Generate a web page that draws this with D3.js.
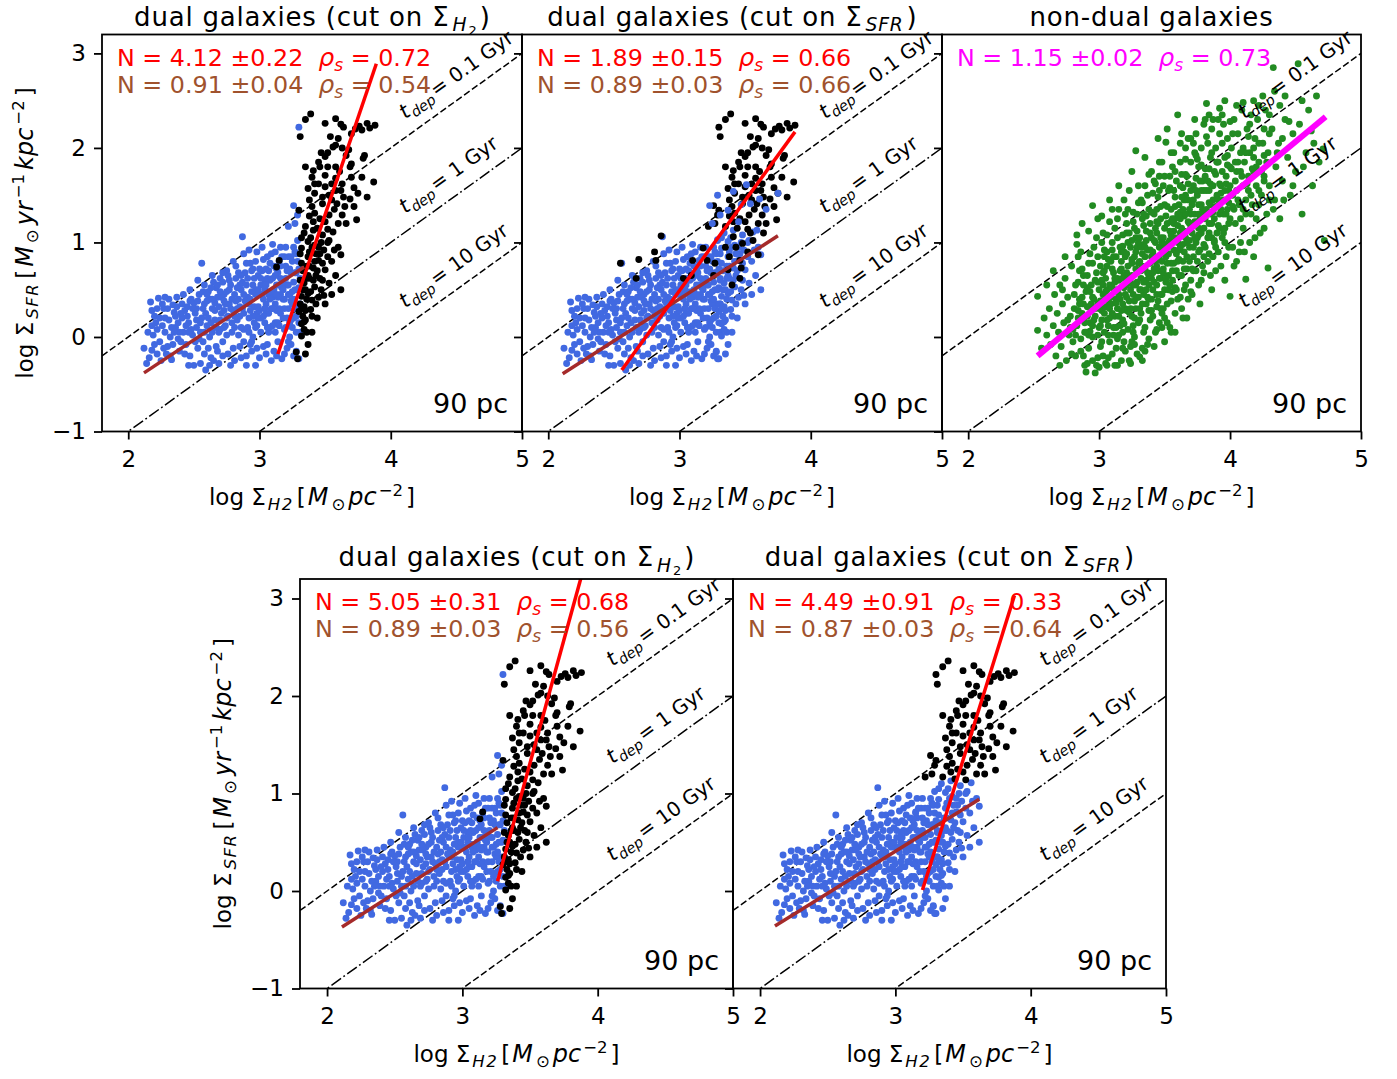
<!DOCTYPE html>
<html>
<head>
<meta charset="utf-8">
<script src="https://cdn.jsdelivr.net/npm/d3@7"></script>
<style>
  body { margin: 0; background: #fff; }
  text { font-family: "DejaVu Sans", sans-serif; }
</style>
</head>
<body>
<svg id="fig" width="1397" height="1079"></svg>
<script>
// axis setup
const xDomain = [1.8, 5], yDomain = [-1, 3.2];
const xTicks = [2, 3, 4, 5], yTicks = [-1, 0, 1, 2, 3];
const tdepGyr = [0.1, 1, 10];
const tdepLabels = ["0.1 Gyr", "1 Gyr", "10 Gyr"];

// dual galaxies: points that are blue whatever the cut
const bothBlue = [
  [2.12,-0.12],[2.14,-0.28],[2.16,-0.22],[2.17,0.37],[2.23,0.41],[2.19,0.02],[2.18,-0.14],[2.22,0.08],[2.24,-0.05],[2.21,0.15],[2.25,-0.25],[2.20,0.22],
  [2.27,0.30],[2.28,0.05],[2.30,-0.10],[2.31,0.18],[2.33,-0.24],[2.35,0.26],[2.36,0.10],[2.38,-0.02],[2.29,-0.18],[2.34,0.34],[2.37,0.42],[2.39,-0.15],[2.32,0.00],[2.26,0.12],
  [2.41,0.20],[2.42,0.05],[2.44,-0.08],[2.45,0.32],[2.46,0.15],[2.47,-0.20],[2.48,0.40],[2.49,0.02],[2.50,-0.30],[2.51,0.25],[2.52,0.10],[2.53,-0.12],[2.54,0.45],[2.43,0.28],[2.46,-0.30],[2.50,0.36],
  [2.56,0.78],[2.56,0.20],[2.57,-0.05],[2.58,0.35],[2.59,-0.35],[2.60,0.12],[2.61,0.48],[2.62,0.00],[2.63,-0.22],[2.64,0.30],[2.65,0.58],[2.66,0.18],[2.67,-0.10],[2.68,0.42],[2.69,0.05],[2.70,0.62],[2.58,0.55],[2.62,-0.30],[2.66,0.36],[2.69,-0.28],
  [2.71,0.25],[2.72,-0.05],[2.73,0.45],[2.74,0.12],[2.75,0.70],[2.76,-0.18],[2.77,0.35],[2.78,0.55],[2.79,0.05],[2.80,0.28],[2.81,-0.25],[2.82,0.62],[2.83,0.18],[2.84,0.40],[2.85,-0.10],[2.72,0.58],[2.76,0.22],[2.80,0.80],[2.84,0.02],[2.78,-0.30],
  [2.86,0.50],[2.87,1.06],[2.87,0.30],[2.88,0.08],[2.89,0.68],[2.90,-0.20],[2.91,0.42],[2.92,0.20],[2.93,0.78],[2.94,-0.05],[2.95,0.55],[2.96,0.32],[2.97,-0.30],[2.98,0.12],[2.99,0.65],[3.00,0.45],[2.88,0.88],[2.92,0.92],[2.95,0.00],[2.98,0.25],[2.90,0.36],[2.97,0.80],
  [3.01,0.20],[3.02,0.70],[3.03,-0.10],[3.04,0.50],[3.05,0.35],[3.06,0.85],[3.07,0.05],[3.08,0.60],[3.09,-0.25],[3.10,0.42],[3.11,0.75],[3.12,0.15],[3.13,0.55],[3.14,-0.05],[3.15,0.30],[3.02,0.95],[3.05,0.25],[3.08,0.78],[3.11,-0.15],[3.14,0.68],[3.03,0.40],[3.09,0.30],[3.12,0.90],[3.06,0.48],
  [3.16,0.62],[3.17,-0.23],[3.18,0.40],[3.19,0.85],[3.20,0.10],[3.21,0.55],[3.22,0.30],[3.23,0.72],[3.24,-0.08],[3.25,0.48],[3.26,0.20],[3.27,0.90],[3.28,0.05],[3.29,1.02],[3.29,0.35],[3.30,-0.23],[3.31,0.62],[3.16,0.95],[3.18,0.20],[3.20,0.75],[3.23,0.00],[3.25,0.80],[3.27,0.50],[3.28,-0.15],[3.30,0.15],[3.24,0.38],[3.21,-0.12],[3.17,0.52],
  [2.52,0.30],[2.55,0.05],[2.60,0.38],[2.63,0.15],[2.67,0.52],[2.70,0.08],[2.73,0.28],[2.75,0.48],[2.79,0.15],[2.82,0.38],[2.85,0.22],[2.88,0.45],[2.91,0.10],[2.93,0.40],[2.96,0.62],[2.99,0.20],[3.01,0.55],[3.04,0.15],[3.07,0.45],[3.10,0.62],[3.13,0.28],[3.16,0.45],[3.19,0.08],[3.22,0.55],[3.25,0.35],[3.28,0.68],
  [2.44,0.12],[2.47,0.38],[2.40,-0.05],[2.36,0.22],[2.31,0.40],[2.58,-0.18],[2.68,-0.15],[2.86,-0.22],[2.94,-0.15],[3.06,-0.08],[3.19,-0.18],[3.26,-0.20],[3.12,0.05],[2.81,0.10],[2.76,0.65],[2.64,0.65],[2.97,0.50],[3.05,0.72],[3.15,0.80],[3.24,0.18],[2.53,0.60],[2.41,0.35],
  [2.15,0.05],[2.18,0.28],[2.20,-0.08],[2.24,0.20],[2.27,-0.12],[2.28,0.42],[2.30,0.30],[2.33,0.10],[2.34,-0.08],[2.37,0.32],[2.39,0.05],[2.42,0.45],[2.43,-0.18],[2.45,0.22],[2.48,0.08],[2.49,0.30],
  [2.51,-0.05],[2.53,0.38],[2.55,0.15],[2.57,0.48],[2.59,0.25],[2.61,-0.12],[2.62,0.40],[2.64,0.05],[2.65,-0.25],[2.66,0.28],[2.68,0.55],[2.70,0.18],[2.71,0.42],[2.72,-0.20],[2.74,0.35],[2.75,0.02],
  [2.77,0.50],[2.78,0.30],[2.80,-0.12],[2.81,0.45],[2.83,0.30],[2.84,0.68],[2.86,0.10],[2.87,0.58],[2.88,-0.05],[2.89,0.38],[2.91,0.62],[2.92,0.05],[2.93,0.28],[2.94,0.70],[2.96,0.15],[2.97,0.45],
  [2.98,-0.12],[2.99,0.32],[3.00,0.72],[3.01,0.05],[3.02,0.45],[3.03,0.82],[3.04,0.30],[3.05,-0.18],[3.06,0.62],[3.07,0.25],[3.08,0.40],[3.09,0.88],[3.10,0.12],[3.11,0.50],[3.12,0.35],[3.13,0.72],
  [3.14,0.15],[3.15,0.55],[3.16,0.25],[3.17,0.85],[3.18,0.50],[3.19,0.30],[3.20,0.62],[3.21,0.20],[3.22,0.85],[3.23,0.45],[3.24,0.68],[3.25,0.10],[3.26,0.58],[3.27,0.30],[3.28,0.88],[3.29,0.50],
  [3.30,0.72],[3.31,0.35],[3.26,0.95],[3.20,0.95],[3.10,0.98],[2.98,0.90],[2.90,0.78],[2.82,0.75],[3.14,0.42],[3.04,0.60],[2.95,0.22],[2.85,0.55],[2.73,0.10],[2.63,0.52],[2.58,0.05],[2.47,0.50],
  [2.38,0.15],[2.26,0.35],[2.22,-0.18],[2.32,-0.20],[2.55,-0.28],[2.72,0.68],[3.13,-0.20],[3.00,-0.22],[2.90,-0.30],[3.22,-0.05],[3.08,0.10],[2.93,-0.08],
  [2.52,0.18],[2.54,-0.02],[2.57,0.30],[2.60,0.45],[2.61,0.20],[2.64,0.40],[2.67,0.10],[2.69,0.32],[2.70,0.48],[2.73,0.38],[2.75,0.20],[2.77,0.60],[2.79,0.40],[2.81,0.22],[2.83,0.52],[2.85,0.32],
  [2.86,0.65],[2.88,0.25],[2.90,0.55],[2.92,0.35],[2.94,0.48],[2.95,0.72],[2.97,0.10],[2.99,0.50],[3.00,0.28],[3.01,0.62],[3.03,0.22],[3.05,0.55],[3.06,0.10],[3.07,0.70],[3.09,0.48],[3.10,0.30],
  [3.12,0.65],[3.13,0.45],[3.15,0.12],[3.16,0.75],[3.18,0.58],[3.19,0.40],[3.21,0.70],[3.22,0.45],[3.23,0.15],[3.24,0.85],[3.26,0.40],[3.27,0.68],[3.28,0.22],[3.29,0.80],[3.30,0.52],[3.31,0.05],
  [2.46,0.05],[2.40,0.25],[2.35,0.05],[2.28,0.20],[2.22,0.30],[2.18,0.12]
];

// black with the cut on Sigma_H2, blue with the cut on Sigma_SFR
const blackH2Only = [
  [3.32,0.94],[3.49,0.92],[3.62,0.87],[3.37,0.85],[3.45,0.81],[3.32,0.78],[3.41,0.73],[3.50,0.71],[3.37,0.65],[3.46,0.62],[3.53,0.57],[3.34,0.57],[3.42,0.53],[3.62,0.50],[3.37,0.46],
  [3.32,0.43],[3.49,0.44],[3.40,0.39],[3.34,0.32],[3.39,0.29],[3.35,0.18],[3.32,0.14],[3.35,-0.18],[3.42,0.97],[3.37,1.01],[3.53,1.02],[3.48,1.08],[3.34,1.10],[3.56,1.11],[3.41,1.13],
  [3.15,0.81],[3.13,0.74],[3.29,-0.23],[3.28,-0.16],[3.32,0.01],[3.34,0.16],[3.30,0.27],[3.36,0.05],
  [3.38,0.90],[3.44,0.70],[3.36,0.75],[3.47,0.50],[3.43,0.35],[3.55,0.80],[3.58,0.65],[3.31,0.60],[3.40,0.05],[3.33,0.22],[3.46,0.88],[3.52,1.00],[3.39,1.05],[3.60,0.95],[3.44,0.20],
  [3.31,0.35],[3.35,0.50],[3.38,0.62],[3.42,0.80],[3.45,0.95],[3.33,0.70],[3.36,0.40],[3.40,0.22],[3.48,0.60],[3.52,0.85],[3.55,0.45],[3.31,0.88],[3.34,0.08],[3.39,0.48],[3.43,0.65],
  [3.47,1.00],[3.50,0.35],[3.57,0.92],[3.32,1.05],[3.37,-0.08],
  [3.33,0.50],[3.36,0.62],[3.41,0.60],[3.45,0.42],[3.38,0.75],[3.43,0.88],[3.35,0.28],[3.48,0.78],[3.32,0.30],[3.40,0.95]
];

// black with the cut on Sigma_SFR, blue with the cut on Sigma_H2
const blackSfrOnly = [[3.22,1.17],[3.26,1.39],[3.29,1.29],[3.30,2.22],[3.27,1.20]];

// black whatever the cut
const bothBlack = [
  [3.39,2.36],[3.35,2.30],[3.50,2.26],[3.58,2.31],[3.31,2.12],[3.64,2.22],[3.73,2.20],[3.82,2.26],[3.88,2.24],[3.78,2.19],[3.70,2.15],[3.54,2.12],[3.58,2.03],[3.56,2.01],[3.68,1.98],
  [3.50,1.91],[3.80,1.92],[3.79,1.89],[3.35,1.80],[3.41,1.76],[3.46,1.80],[3.58,1.80],[3.69,1.80],[3.70,1.83],[3.40,1.69],[3.50,1.71],[3.42,1.62],[3.78,1.69],[3.87,1.64],[3.70,1.69],
  [3.58,1.68],[3.37,1.57],[3.50,1.59],[3.62,1.55],[3.55,1.62],[3.64,1.48],[3.42,1.52],[3.53,1.50],[3.75,1.52],[3.82,1.48],[3.69,1.46],[3.59,1.41],[3.48,1.41],[3.40,1.38],[3.30,1.34],
  [3.42,1.31],[3.53,1.29],[3.63,1.29],[3.74,1.24],[3.50,1.22],[3.35,1.17],
  [3.62,2.25],[3.76,2.23],[3.84,2.21],[3.60,2.10],[3.66,1.92],[3.52,1.95],[3.45,1.85],[3.63,1.62],[3.72,1.38],[3.57,1.35],[3.46,1.25],[3.66,1.20],[3.38,1.28],[3.61,1.75],[3.48,1.48],
  [3.44,1.15],[3.52,1.14],[3.60,1.20],[3.38,1.45],[3.45,1.62],[3.55,1.45],[3.65,1.38],[3.58,1.55],[3.52,1.80],[3.47,1.95],[3.63,2.00],[3.72,1.58],[3.41,1.22]
];

// panel 2 (cut on Sigma_SFR, top row) has its own mix
const p2Black = [
  [2.55,0.78],[2.69,0.82],[2.81,0.90],[2.82,0.81],[2.67,0.62],[2.86,1.07],[3.18,0.94],[3.10,0.81],[3.03,0.62],[3.09,0.65],[3.21,0.81],[3.27,0.78],[3.38,0.85],[3.37,0.71],
  [3.46,0.81],[3.46,0.62],[3.60,0.87],[3.41,1.06],[3.48,0.99],[3.54,1.10],[3.43,0.95],[3.56,1.02],[3.47,0.73],[3.26,0.65],[3.35,0.95],[3.52,0.90],[3.64,1.10],[3.40,0.55]
];
const p2Blue = [
  [3.29,1.50],[3.41,1.54],[3.51,1.61],[3.75,1.52],[3.23,1.39],[3.37,1.34],[3.45,1.22],[3.31,1.29],[3.54,1.41],[3.61,1.46],[3.59,1.13],[3.29,1.03],[3.47,1.40],[3.66,1.35],[3.25,1.20]
];

// non-dual galaxies
const nonDual = [
  [2.53,0.43],[2.53,0.07],[2.56,-0.12],[2.58,0.20],[2.60,0.02],
  [2.62,0.30],[2.63,-0.08],[2.65,0.12],[2.66,0.45],[2.67,-0.20],[2.68,0.25],[2.69,0.05],[2.70,0.55],
  [2.71,-0.10],[2.72,0.35],[2.73,0.15],[2.74,0.62],[2.75,-0.25],[2.76,0.42],[2.77,0.02],[2.78,0.22],[2.79,0.75],[2.80,-0.05],[2.72,0.50],[2.78,0.10],
  [2.81,0.30],[2.82,0.55],[2.82,-0.20],[2.83,0.12],[2.84,0.85],[2.85,0.40],[2.86,-0.02],[2.87,1.20],[2.87,0.25],[2.88,0.65],[2.89,-0.30],[2.90,0.48],[2.90,0.05],[2.85,0.70],[2.88,0.18],[2.83,0.98],[2.90,-0.37],[2.86,0.90],
  [2.91,0.32],[2.92,0.78],[2.92,-0.12],[2.93,0.15],[2.94,0.55],[2.95,1.39],[2.95,0.00],[2.96,0.40],[2.96,0.95],[2.97,-0.38],[2.97,0.22],[2.98,0.68],[2.99,-0.22],[3.00,0.50],[3.00,0.10],[2.93,0.88],[2.98,1.05],[2.94,0.28],[2.99,0.35],[2.91,-0.28],
  [3.01,0.75],[3.01,-0.10],[3.02,0.28],[3.03,1.10],[3.03,0.45],[3.04,0.05],[3.05,0.62],[3.05,-0.28],[3.06,0.90],[3.06,0.18],[3.07,0.38],[3.08,1.22],[3.08,-0.05],[3.08,0.55],[3.09,0.80],[3.10,0.25],[3.10,-0.18],[3.10,1.00],[3.02,0.60],[3.04,0.85],[3.07,0.12],[3.09,0.42],[3.05,0.32],[3.03,-0.20],
  [3.11,0.68],[3.11,0.10],[3.12,0.48],[3.12,1.15],[3.13,-0.12],[3.13,0.85],[3.14,0.30],[3.15,0.60],[3.15,1.35],[3.15,0.02],[3.16,0.95],[3.16,0.40],[3.17,-0.25],[3.17,0.72],[3.18,0.18],[3.18,1.08],[3.19,0.52],[3.19,-0.05],[3.20,0.85],[3.20,0.30],[3.14,1.25],[3.16,0.12],[3.18,0.62],[3.12,0.22],[3.19,1.45],[3.20,-0.15],[3.13,0.40],[3.17,0.90],
  [3.21,0.55],[3.21,1.20],[3.22,0.08],[3.22,0.75],[3.23,0.38],[3.23,1.55],[3.24,-0.10],[3.24,0.95],[3.25,0.22],[3.25,0.65],[3.26,1.32],[3.26,0.45],[3.27,0.00],[3.27,0.85],[3.28,1.05],[3.28,0.30],[3.28,1.97],[3.29,0.58],[3.29,-0.18],[3.30,0.78],[3.30,1.42],[3.30,0.15],[3.22,1.00],[3.24,0.50],[3.26,0.12],[3.27,1.15],[3.29,0.95],[3.23,0.62],[3.25,-0.05],[3.30,0.42],[3.21,0.28],[3.31,-0.21],
  [3.31,1.05],[3.32,0.62],[3.32,0.25],[3.33,1.25],[3.33,0.88],[3.34,0.05],[3.34,0.45],[3.35,1.60],[3.35,0.72],[3.36,0.35],[3.36,1.12],[3.37,-0.08],[3.37,0.92],[3.38,0.55],[3.38,1.35],[3.39,0.18],[3.39,0.78],[3.40,1.05],[3.40,0.40],[3.40,1.75],[3.32,1.45],[3.34,0.98],[3.36,0.60],[3.38,0.28],[3.35,-0.15],[3.39,1.20],[3.33,0.35],[3.37,1.50],[3.31,0.80],[3.40,0.62],
  [3.41,0.90],[3.41,0.22],[3.42,1.30],[3.42,0.58],[3.43,0.05],[3.43,1.62],[3.44,0.75],[3.44,1.10],[3.45,0.38],[3.45,1.48],[3.46,0.95],[3.46,0.15],[3.47,1.25],[3.47,0.62],[3.48,1.85],[3.48,0.80],[3.49,0.30],[3.49,1.05],[3.50,1.40],[3.50,0.50],[3.42,0.85],[3.44,0.45],[3.46,1.70],[3.48,0.10],[3.43,1.00],[3.47,0.95],[3.49,1.60],[3.45,0.70],[3.41,1.52],[3.50,0.20],
  [3.51,0.85],[3.51,2.06],[3.52,1.20],[3.52,0.35],[3.53,0.65],[3.53,1.55],[3.54,1.02],[3.54,0.10],[3.55,1.35],[3.55,0.78],[3.56,1.80],[3.56,0.48],[3.57,1.12],[3.57,0.92],[3.58,0.25],[3.58,1.48],[3.59,0.70],[3.59,1.65],[3.60,1.00],[3.60,0.40],[3.52,0.95],[3.54,1.70],[3.56,0.60],[3.58,1.25],[3.55,0.05],[3.57,1.95],[3.60,1.30],[3.53,0.50],[3.59,0.88],
  [3.61,1.40],[3.61,0.65],[3.62,1.85],[3.62,0.95],[3.63,0.30],[3.63,1.15],[3.64,1.58],[3.64,0.80],[3.65,1.28],[3.65,0.50],[3.66,2.00],[3.66,1.05],[3.67,0.72],[3.67,1.70],[3.68,0.40],[3.68,1.45],[3.69,1.20],[3.69,0.95],[3.70,1.85],[3.70,0.60],[3.62,1.25],[3.64,0.20],[3.66,1.50],[3.68,2.10],[3.65,0.90],[3.70,1.30],[3.63,1.72],
  [3.71,1.10],[3.71,0.45],[3.72,1.60],[3.72,0.85],[3.73,1.95],[3.73,1.30],[3.74,0.70],[3.74,2.15],[3.75,1.05],[3.75,1.50],[3.76,0.55],[3.76,1.80],[3.77,1.25],[3.77,0.92],[3.78,2.00],[3.78,1.40],[3.79,0.75],[3.79,1.65],[3.80,1.15],[3.80,2.25],[3.72,1.45],[3.74,1.00],[3.76,1.15],[3.78,0.60],[3.80,1.55],[3.75,1.88],
  [3.81,0.95],[3.81,1.70],[3.82,2.47],[3.82,1.35],[3.83,0.80],[3.83,2.05],[3.84,1.20],[3.84,1.55],[3.85,0.65],[3.85,1.90],[3.86,1.05],[3.86,2.20],[3.87,1.45],[3.87,0.85],[3.88,1.75],[3.88,1.25],[3.89,2.00],[3.89,0.70],[3.90,1.50],[3.90,1.10],[3.83,1.65],[3.85,1.30],[3.87,2.30],[3.89,0.95],
  [3.91,1.85],[3.91,0.90],[3.92,1.30],[3.92,2.15],[3.93,1.60],[3.93,0.75],[3.94,1.05],[3.94,2.35],[3.95,1.45],[3.96,1.90],[3.96,1.15],[3.97,0.85],[3.97,1.70],[3.98,2.10],[3.98,1.35],[3.99,0.95],[4.00,1.80],[4.00,0.43],[4.00,1.25],[3.95,2.25],[3.99,1.55],
  [4.01,2.00],[4.02,1.50],[4.02,0.95],[4.03,2.30],[4.04,1.20],[4.05,1.75],[4.05,0.80],[4.06,2.15],[4.07,1.40],[4.08,1.00],[4.08,1.95],[4.09,2.40],[4.10,1.60],[4.10,2.48],[4.10,1.15],[4.04,1.65],[4.07,0.90],
  [4.11,1.85],[4.12,0.61],[4.12,1.30],[4.13,2.20],[4.14,1.55],[4.15,1.00],[4.15,1.95],[4.16,2.35],[4.17,1.40],[4.18,1.75],[4.18,0.85],[4.19,2.10],[4.20,1.25],[4.20,1.60],
  [4.21,2.30],[4.22,1.85],[4.23,1.10],[4.24,1.50],[4.25,2.05],[4.26,1.70],[4.27,2.40],[4.28,1.30],[4.29,0.73],[4.29,1.95],[4.30,1.60],
  [4.32,2.20],[4.33,2.85],[4.34,1.45],[4.35,1.80],[4.37,2.05],[4.38,1.25],[4.40,1.65],[4.42,2.30],[4.44,1.90],[4.46,1.50],[4.48,2.15],[4.50,1.75],
  [4.52,2.89],[4.53,2.25],[4.55,1.30],[4.58,1.95],[4.60,2.40],[4.63,1.60],[4.66,2.55],[4.68,1.85],[4.71,1.99],[4.72,1.02],
  [2.86,-0.15],[2.95,-0.25],[3.00,-0.32],[3.07,-0.22],[3.12,-0.30],[3.18,-0.12],[3.23,-0.25],[3.27,-0.08],[3.02,-0.05],[2.92,0.02],[3.14,-0.02],[3.33,-0.12],[3.38,-0.02],
  [2.76,0.18],[2.80,0.08],[2.84,0.28],[2.89,0.15],[2.93,0.06],[2.97,0.30],[3.01,0.12],[3.04,0.25],[3.08,0.20],[3.11,0.02],[3.15,0.22],[3.19,0.14],[3.23,0.26],[3.26,0.05],[3.31,0.18],[3.35,0.10],[3.40,0.28],[3.44,0.08],[3.48,0.25],[3.52,0.15],[3.03,0.32],[2.96,0.18],
  [2.81,0.45],[2.84,0.58],[2.88,0.35],[2.91,0.52],[2.95,0.42],[2.99,0.58],[3.02,0.38],[3.06,0.50],[3.09,0.35],[3.12,0.58],[3.15,0.45],[3.18,0.35],[3.21,0.42],[3.24,0.58],[3.27,0.38],
  [3.31,0.50],[3.34,0.58],[3.37,0.42],[3.41,0.50],[3.44,0.32],[3.47,0.45],[3.51,0.58],[3.55,0.38],[3.58,0.52],[3.62,0.42],[3.66,0.55],[3.70,0.48],[3.00,0.30],[3.13,0.36],[3.28,0.55],
  [2.87,0.72],[2.91,0.65],[2.95,0.78],[2.99,0.85],[3.03,0.68],[3.07,0.82],[3.10,0.72],[3.14,0.62],[3.17,0.80],[3.21,0.68],[3.25,0.82],[3.28,0.72],[3.32,0.70],[3.35,0.85],[3.38,0.65],
  [3.42,0.72],[3.45,0.82],[3.49,0.68],[3.52,0.78],[3.56,0.70],[3.60,0.80],[3.63,0.65],[3.67,0.85],[3.71,0.72],[3.75,0.80],[3.80,0.68],[3.84,0.88],[3.04,0.92],[3.19,0.90],[3.46,0.62],
  [3.02,1.00],[3.06,1.08],[3.10,0.92],[3.14,1.05],[3.18,0.96],[3.21,1.10],[3.25,1.02],[3.29,1.12],[3.32,0.95],[3.36,1.02],[3.39,0.92],[3.43,1.15],[3.47,1.05],[3.50,0.98],
  [3.54,1.12],[3.58,1.02],[3.61,0.92],[3.65,1.12],[3.69,1.02],[3.72,0.95],[3.76,1.08],[3.80,0.98],[3.84,1.10],[3.88,1.02],[3.92,1.15],[3.96,1.00],[3.34,1.18],[3.57,1.20],
  [3.22,1.35],[3.26,1.22],[3.29,1.30],[3.33,1.42],[3.36,1.28],[3.40,1.32],[3.44,1.22],[3.47,1.38],[3.51,1.28],[3.55,1.22],[3.58,1.38],[3.62,1.32],[3.65,1.45],
  [3.69,1.35],[3.73,1.22],[3.76,1.40],[3.80,1.30],[3.84,1.42],[3.87,1.32],[3.91,1.45],[3.95,1.30],[3.99,1.42],[4.03,1.35],[4.08,1.25],[4.12,1.45],[4.16,1.30],
  [3.42,1.65],[3.46,1.55],[3.50,1.70],[3.54,1.58],[3.58,1.75],[3.62,1.60],[3.66,1.72],[3.70,1.55],[3.74,1.68],[3.78,1.55],[3.81,1.78],
  [3.85,1.62],[3.89,1.72],[3.93,1.52],[3.97,1.62],[4.01,1.78],[4.05,1.55],[4.09,1.70],[4.13,1.62],[4.17,1.78],[4.22,1.55],[4.26,1.65],
  [3.62,2.05],[3.66,1.88],[3.70,2.10],[3.74,1.92],[3.78,1.82],[3.82,2.12],[3.86,1.95],[3.90,1.85],[3.94,2.05],[3.98,1.92],
  [4.02,2.15],[4.06,1.85],[4.10,2.00],[4.14,2.12],[4.18,1.90],[4.22,2.05],[4.26,1.92],[4.30,2.15],[4.36,1.95],[4.40,2.10],
  [3.84,2.35],[3.92,2.42],[4.00,2.28],[4.05,2.45],[4.15,2.25],[4.22,2.45],[4.30,2.35],[4.38,2.45],[4.45,2.28],[4.55,2.50],[4.62,2.18],
  [2.60,0.55],[2.65,0.70],[2.70,-0.30],[2.74,0.85],[2.79,-0.18],[2.83,1.08],[2.88,-0.20],[2.92,1.12],[2.98,-0.30],[3.02,1.28],[3.06,-0.30],[3.10,1.35],[3.14,-0.30],[3.20,1.30],
  [3.24,-0.28],[3.30,1.60],[3.33,-0.25],[3.38,1.72],[3.42,-0.10],[3.46,1.85],[3.50,-0.05],[3.55,1.95],[3.58,0.05],[3.63,2.15],[3.67,0.20],[3.72,2.05],[3.77,0.35],[3.81,2.30],
  [3.86,0.50],[3.91,2.30],[3.96,0.60],[4.03,0.75],[4.11,0.90],[4.19,1.05],[4.26,1.15],[4.33,1.35],[4.41,1.45],[4.48,1.60],[4.56,1.80],[4.64,2.05],[4.42,2.55],[4.34,2.60],
  [4.25,2.55],[4.18,2.50],[3.96,2.50],[3.73,2.30],[3.52,2.20],[3.60,2.35],[3.45,2.10],[3.35,1.90],[3.25,1.75],[3.15,1.60],[3.08,1.45],[2.99,1.25],
  [2.82,0.02],[2.84,0.20],[2.87,0.42],[2.89,0.05],[2.91,0.22],[2.93,0.48],[2.95,0.12],[2.97,0.60],[2.99,0.02],[2.85,0.35],[2.88,0.55],[2.94,0.35],
  [3.01,0.38],[3.02,0.18],[3.04,0.70],[3.05,0.48],[3.07,0.02],[3.08,0.30],[3.10,0.52],[3.11,0.85],[3.13,0.10],[3.14,0.50],[3.16,0.70],[3.17,0.28],[3.19,0.65],[3.20,0.45],[3.06,0.75],[3.12,0.62],[3.18,0.05],[3.03,0.55],
  [3.21,0.88],[3.22,0.62],[3.24,0.30],[3.25,0.78],[3.26,0.55],[3.28,0.90],[3.29,0.42],[3.30,1.00],[3.32,0.50],[3.33,0.75],[3.35,0.95],[3.36,0.50],[3.37,0.68],[3.39,1.10],[3.40,0.85],[3.23,1.10],[3.27,0.20],[3.31,0.30],[3.34,1.30],[3.38,0.40],
  [3.41,0.68],[3.42,1.02],[3.43,0.80],[3.44,0.55],[3.45,1.20],[3.46,0.85],[3.47,0.30],[3.48,1.00],[3.49,0.72],[3.50,1.15],[3.51,0.62],[3.52,1.38],[3.53,0.88],[3.54,0.55],[3.55,1.08],[3.56,1.25],[3.57,0.78],[3.58,1.05],[3.59,0.50],[3.60,1.18],[3.44,1.35],[3.48,0.45],[3.53,1.00],[3.57,1.55],
  [3.61,0.82],[3.62,1.10],[3.63,1.48],[3.64,0.98],[3.65,0.72],[3.66,1.30],[3.67,1.00],[3.68,1.62],[3.69,0.80],[3.70,1.15],[3.71,1.40],[3.72,0.70],[3.73,1.05],[3.74,1.55],[3.75,1.22],[3.76,0.90],[3.77,1.65],[3.78,1.10],[3.79,1.35],[3.80,0.85],[3.64,1.35],[3.68,1.22],[3.72,1.20],[3.76,1.30],
  [3.81,1.25],[3.82,1.55],[3.83,1.05],[3.84,1.78],[3.85,1.40],[3.86,1.20],[3.87,1.60],[3.88,1.00],[3.89,1.38],[3.90,1.85],[3.91,1.18],[3.92,1.62],[3.93,1.35],[3.94,1.75],[3.95,1.10],[3.96,1.55],[3.97,1.30],[3.98,1.82],[3.99,1.20],[4.00,1.60],
  [4.02,1.38],[4.04,1.85],[4.06,1.45],[4.08,1.75],[4.10,1.35],[4.12,1.95],[4.14,1.70],[4.16,1.50],[4.18,2.00],[4.20,1.80],[4.22,1.40],[4.24,1.75],[4.26,2.20],[4.28,1.85],[4.30,1.45]
];

// fitted relations (end points)
const fitSteep = [
  [[3.14,-0.18],[3.89,2.89]],
  [[2.56,-0.35],[3.88,2.17]],
  [[2.53,-0.20],[4.73,2.33]],
  [[3.26,0.10],[3.89,3.28]],
  [[3.20,0.01],[3.88,3.03]]
];
const fitShallow = [
  [[2.12,-0.38],[3.34,0.74]],
  [[2.11,-0.39],[3.75,1.07]],
  null,
  [[2.11,-0.37],[3.26,0.65]],
  [[2.11,-0.36],[3.62,0.94]]
];
const steepN = ["4.12 ±0.22", "1.89 ±0.15", "1.15 ±0.02", "5.05 ±0.31", "4.49 ±0.91"];
const steepRho = ["0.72", "0.66", "0.73", "0.68", "0.33"];
const shallowN = ["0.91 ±0.04", "0.89 ±0.03", null, "0.89 ±0.03", "0.87 ±0.03"];
const shallowRho = ["0.54", "0.66", null, "0.56", "0.64"];

const svg = d3.select("#fig");

// parts: [text, level, italic, dx, letterSpacing]  level 0 base, -1 sub, -2 subsub, 1 sup
function rich(sel, parts, size) {
  let prev = 0;
  parts.forEach(([t, lvl, it, dx, ls]) => {
    let fs = it ? size * 1.04 : size, off = 0;
    if (lvl === -1) { fs = size * 0.72; off = size * 0.22; }
    if (lvl === -2) { fs = size * 0.5; off = size * 0.36; }
    if (lvl === 1) { fs = size * 0.72; off = -size * 0.38; }
    sel.append("tspan").text(t)
      .attr("font-size", fs)
      .attr("dx", dx || null)
      .attr("dy", off - prev)
      .attr("letter-spacing", ls || null)
      .attr("font-style", it ? "italic" : null);
    prev = off;
  });
}

const titleH2 = [["dual galaxies (cut on Σ", 0, false, 0, 0.8], ["H", -1, true, 3], ["2", -2, false, 2], [")", 0, false, 3]];
const titleSfr = [["dual galaxies (cut on Σ", 0, false, 0, 0.8], ["SFR", -1, true, 3, 0.8], [")", 0, false, 3]];
const titleNon = [["non-dual galaxies", 0, false, 0, 0.8]];
const xLab = [["log Σ", 0], ["H2", -1, true, 2, 1.5], ["[", 0, false, 3], ["M", 0, true, 2], ["⊙", -1, false, 3],
  ["pc", 0, true, 3], ["−2", 1, false, 2], ["]", 0, false, 3]];
const yLab = [["log Σ", 0], ["SFR", -1, true, 3, 1.5], ["[", 0, false, 4], ["M", 0, true, 3], ["⊙", -1, false, 3],
  ["yr", 0, true, 4], ["−1", 1, false, 3], ["kpc", 0, true, 4], ["−2", 1, false, 3], ["]", 0, false, 4]];

const panels = [
  {x: 102, y: 34.5, w: 420, h: 397, titleY: 25.5, title: titleH2, yAxis: true,
   blue: [bothBlue, blackSfrOnly], black: [blackH2Only, bothBlack], top: []},
  {x: 522, y: 34.5, w: 420, h: 397, titleY: 25.5, title: titleSfr, yAxis: false,
   blue: [bothBlue, blackH2Only], black: [bothBlack, blackSfrOnly, p2Black], top: [p2Blue]},
  {x: 942, y: 34.5, w: 419, h: 397, titleY: 25.5, title: titleNon, yAxis: false,
   green: nonDual},
  {x: 300, y: 579, w: 433, h: 409.5, titleY: 566, title: titleH2, yAxis: true,
   blue: [bothBlue, blackSfrOnly], black: [blackH2Only, bothBlack], top: []},
  {x: 733, y: 579, w: 433, h: 409.5, titleY: 566, title: titleSfr, yAxis: false,
   blue: [bothBlue, blackH2Only], black: [blackSfrOnly, bothBlack], top: []}
];

panels.forEach((p, i) => {
  const x = d3.scaleLinear().domain(xDomain).range([p.x, p.x + p.w]);
  const y = d3.scaleLinear().domain(yDomain).range([p.y + p.h, p.y]);
  const clipId = "clip" + i;
  svg.append("clipPath").attr("id", clipId)
    .append("rect").attr("x", p.x).attr("y", p.y).attr("width", p.w).attr("height", p.h);
  const g = svg.append("g");
  const inner = g.append("g").attr("clip-path", `url(#${clipId})`);

  // depletion time lines
  const line = d3.line().x(d => x(d[0])).y(d => y(d[1]));
  tdepGyr.forEach((t, k) => {
    const off = 3 + Math.log10(t);
    inner.append("path")
      .attr("d", line([[xDomain[0], xDomain[0] - off], [xDomain[1], xDomain[1] - off]]))
      .attr("fill", "none").attr("stroke", "black").attr("stroke-width", 1.5)
      .attr("stroke-dasharray", k === 1 ? "11.8,2.9,1.8,2.9" : "6.8,2.9");
  });

  const dots = (data, color) => inner.append("g").selectAll("circle").data(data).enter()
    .append("circle")
    .attr("cx", d => x(d[0])).attr("cy", d => y(d[1])).attr("r", 3.45)
    .attr("fill", color);

  if (p.green) {
    dots(p.green, "#228b22");
  } else {
    p.blue.forEach(arr => dots(arr, "#4169e1"));
    p.black.forEach(arr => dots(arr, "black"));
    p.top.forEach(arr => dots(arr, "#4169e1"));
  }

  // fits
  if (fitShallow[i]) {
    inner.append("path").attr("d", line(fitShallow[i]))
      .attr("stroke", "#a52a2a").attr("stroke-width", 3.5).attr("fill", "none");
  }
  inner.append("path").attr("d", line(fitSteep[i]))
    .attr("stroke", p.green ? "#ff00ff" : "#ff0000")
    .attr("stroke-width", p.green ? 6 : 3.5).attr("fill", "none");

  // statistics
  const fs = 23.8;
  const stat = (n, rho, color, by) => {
    const t = g.append("text").attr("x", p.x + 15).attr("y", p.y + by)
      .attr("fill", color).attr("font-size", fs).style("white-space", "pre");
    rich(t, [["N = " + n + "  ", 0], ["ρ", 0, true], ["s", -1, true], [" = " + rho, 0]], fs);
  };
  stat(steepN[i], steepRho[i], p.green ? "#ff00ff" : "#ff0000", 31);
  if (shallowN[i]) stat(shallowN[i], shallowRho[i], "#a0522d", 58);

  // depletion time labels
  const ang = -Math.atan((y(0) - y(1)) / (x(1) - x(0))) * 180 / Math.PI;
  tdepGyr.forEach((t, k) => {
    const lx = 4.11, ly = lx - 3 - Math.log10(t) + 0.19;
    const tx = g.append("text")
      .attr("transform", `translate(${x(lx)},${y(ly)}) rotate(${ang})`)
      .attr("font-size", 20).style("white-space", "pre");
    rich(tx, [["t", 0, true], ["dep", -1, true, 1], ["= " + tdepLabels[k], 0, false, 2]], 20);
  });

  g.append("text").attr("x", p.x + p.w - 14).attr("y", p.y + p.h - 18.5)
    .attr("text-anchor", "end").attr("font-size", 27).text("90 pc");

  // frame
  g.append("rect").attr("x", p.x).attr("y", p.y).attr("width", p.w).attr("height", p.h)
    .attr("fill", "none").attr("stroke", "black").attr("stroke-width", 1.8);

  // axes
  const xa = g.append("g").attr("transform", `translate(0,${p.y + p.h})`)
    .call(d3.axisBottom(x).tickValues(xTicks).tickSize(8).tickPadding(11).tickFormat(d3.format("d")));
  const ya = g.append("g").attr("transform", `translate(${p.x},0)`)
    .call(d3.axisLeft(y).tickValues(yTicks).tickSize(8).tickPadding(8)
      .tickFormat(p.yAxis ? (d => d < 0 ? "−" + Math.abs(d) : String(d)) : () => ""));
  [xa, ya].forEach(a => {
    a.select(".domain").remove();
    a.selectAll("line").attr("stroke-width", 1.8);
    a.selectAll("text").attr("font-size", 23).attr("font-family", "DejaVu Sans").attr("fill", "black");
  });

  // title
  const tt = svg.append("text").attr("x", p.x + p.w / 2).attr("y", p.titleY)
    .attr("text-anchor", "middle").attr("font-size", 26);
  rich(tt, p.title, 26);

  // x label
  const xl = svg.append("text").attr("x", p.x + p.w / 2).attr("y", p.y + p.h + 73)
    .attr("text-anchor", "middle").attr("font-size", 23);
  rich(xl, xLab, 23);

  if (p.yAxis) {
    const yl = svg.append("text")
      .attr("transform", `translate(${p.x - 69},${p.y + p.h / 2}) rotate(-90)`)
      .attr("text-anchor", "middle").attr("font-size", 23);
    rich(yl, yLab, 23);
  }
});
</script>
</body>
</html>
